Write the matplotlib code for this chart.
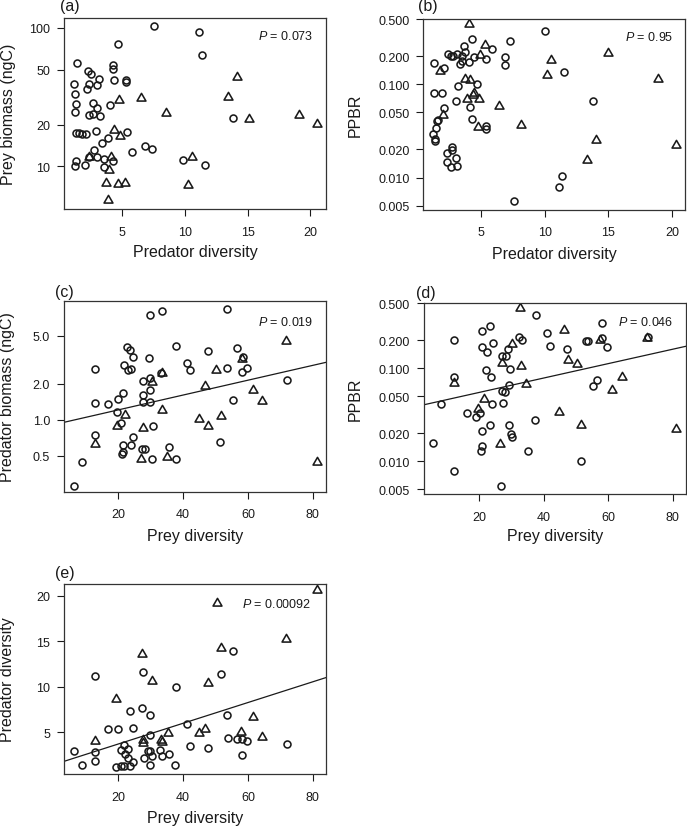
# Predator / prey diversity, biomass and PPBR panels (a)-(e)

import numpy as np
import matplotlib
matplotlib.use('Agg')
import matplotlib.pyplot as plt
from matplotlib.path import Path
from matplotlib.ticker import FixedLocator, FixedFormatter, NullLocator

plt.rcParams['font.family'] = ['Liberation Sans', 'DejaVu Sans']
plt.rcParams['mathtext.fontset'] = 'custom'
plt.rcParams['mathtext.it'] = 'Liberation Sans:italic'
plt.rcParams['mathtext.rm'] = 'Liberation Sans'

# ---- data ----
# (a) predator diversity vs prey biomass
a_circ_x = [7.55, 11.14, 11.38, 4.63, 1.38, 2.23, 2.5, 4.23, 4.23, 3.16, 4.36, 5.29, 5.29, 1.14, 2.34,
            2.98, 2.21, 1.25, 1.33, 2.68, 2.95, 4.04, 1.25, 2.31, 2.63, 3.22, 13.86, 1.30, 1.54, 1.81,
            2.07, 2.9, 5.35, 3.88, 3.38, 6.81, 7.34, 5.74, 2.74, 1.33, 1.25, 2.0, 2.37, 2.98, 3.56,
            4.23, 3.56, 9.84, 11.57]
a_circ_y = [104, 93.5, 63.8, 76.2, 56, 48.9, 46.2, 53.7, 50.2, 43, 42.4, 41.9, 40.7, 39.6, 39.2,
            38.8, 36.2, 33.3, 28, 28.5, 26.4, 27.9, 24.8, 23.4, 23.8, 23.1, 22.5, 17.4, 17.3, 17.1,
            17.2, 17.9, 17.8, 16, 14.7, 14, 13.3, 12.6, 13.2, 10.9, 10, 10.2, 11.6, 11.6, 11.3,
            10.9, 9.95, 11.1, 10.3]
a_tri_x = [4.73, 6.46, 8.48, 13.40, 14.15, 15.1, 19.1, 20.56, 4.36, 4.81, 4.10, 3.94, 3.70, 4.65,
           5.24, 10.21, 3.86, 10.53, 2.37]
a_tri_y = [30.3, 31.2, 24.4, 31.7, 44.5, 21.9, 23.6, 20.1, 18.3, 16.6, 11.7, 9.46, 7.62, 7.41,
           7.54, 7.33, 5.68, 11.7, 11.6]

# (b) predator diversity vs PPBR
b_circ_x = [1.35, 2.13, 2.44, 2.63, 2.84, 3.12, 3.54, 3.67, 3.72, 3.49, 3.33, 4.27, 4.04, 4.45, 5.86,
            5.44, 7.32, 6.90, 6.90, 10.0, 11.49, 3.23, 4.71, 1.35, 1.92, 3.04, 2.11, 4.14, 4.32, 1.53,
            1.66, 1.45, 1.27, 1.43, 1.43, 5.39, 5.39, 2.76, 2.76, 2.34, 3.07, 2.32, 2.68, 3.15, 13.76,
            11.36, 11.10, 7.63]
b_circ_y = [0.170, 0.151, 0.210, 0.202, 0.202, 0.214, 0.203, 0.261, 0.221, 0.178, 0.164, 0.307, 0.173,
            0.197, 0.240, 0.189, 0.290, 0.197, 0.161, 0.375, 0.136, 0.0953, 0.100, 0.080, 0.080,
            0.0667, 0.0561, 0.057, 0.0428, 0.0407, 0.041, 0.0339, 0.0295, 0.0261, 0.0248, 0.0356,
            0.0333, 0.0215, 0.0197, 0.0183, 0.0161, 0.0146, 0.0129, 0.0132, 0.0656, 0.0103, 0.0080,
            0.00556]
b_tri_x = [4.04, 5.29, 4.92, 10.5, 10.16, 15.0, 18.92, 1.77, 3.75, 4.17, 4.48, 4.4, 3.90, 4.82,
           2.05, 6.46, 4.74, 8.13, 14.07, 13.34, 20.3]
b_tri_y = [0.441, 0.262, 0.205, 0.183, 0.126, 0.215, 0.113, 0.138, 0.115, 0.110, 0.0813, 0.076,
           0.070, 0.069, 0.0472, 0.0585, 0.0347, 0.0362, 0.0252, 0.0153, 0.0224]

# (c) prey diversity vs predator biomass
c_circ_x = [6.36, 8.72, 12.92, 12.92, 12.92, 16.92, 19.49, 20.0, 20.82, 21.03, 21.4, 21.54, 21.54,
            21.64, 22.67, 22.87, 23.69, 24.0, 24.62, 23.79, 24.41, 27.2, 28.4, 29.74, 33.64, 29.64,
            27.59, 29.74, 29.85, 27.59, 27.69, 29.85, 33.13, 30.67, 30.46, 35.59, 37.74, 37.95,
            41.33, 42.26, 47.59, 51.49, 53.54, 53.44, 55.38, 56.72, 58.36, 58.05, 59.79, 72.2]
c_circ_y = [0.281, 0.44, 2.67, 1.38, 0.745, 1.35, 1.15, 1.49, 0.93, 0.52, 0.54, 0.61, 1.67, 2.88,
            4.05, 2.62, 3.82, 2.65, 3.33, 0.61, 0.716, 0.569, 0.569, 7.53, 8.03, 3.30, 2.12, 2.23,
            1.76, 1.59, 1.40, 1.40, 2.45, 0.89, 0.466, 0.59, 0.466, 4.15, 2.97, 2.58, 3.77, 0.645,
            8.35, 2.72, 1.46, 3.99, 3.33, 2.48, 2.72, 2.16]
c_tri_x = [12.92, 19.49, 22.15, 27.49, 27.08, 30.56, 33.44, 33.54, 35.18, 44.82, 47.79, 46.77,
           50.26, 51.69, 58.05, 61.54, 64.41, 71.69, 81.33]
c_tri_y = [0.63, 0.88, 1.10, 0.857, 0.469, 2.07, 2.45, 1.21, 0.488, 1.02, 0.89, 1.91, 2.60, 1.08,
           3.21, 1.78, 1.44, 4.54, 0.44]
c_fit = [-0.043, 0.0062]   # log10(y) = a + b * x

# (d) prey diversity vs PPBR
d_circ_x = [5.70, 8.19, 12.23, 12.23, 12.23, 16.27, 18.96, 20.3, 20.93, 20.93, 20.93, 20.7, 20.5,
            22.49, 22.07, 23.3, 23.5, 24.15, 23.94, 23.2, 26.94, 27.36, 26.7, 27.15, 27.98, 28.19,
            29.0, 29.43, 29.3, 29.3, 29.95, 30.05, 32.44, 33.16, 35.13, 37.2, 37.62, 40.93, 41.87,
            47.15, 51.4, 53.16, 53.6, 55.13, 56.58, 57.93, 58.13, 59.69, 72.44]
d_circ_y = [0.0159, 0.0414, 0.202, 0.0813, 0.00794, 0.0331, 0.0297, 0.0331, 0.252, 0.168, 0.021,
            0.0148, 0.013, 0.151, 0.0953, 0.288, 0.080, 0.189, 0.041, 0.0248, 0.135, 0.0424,
            0.00547, 0.057, 0.0563, 0.137, 0.160, 0.0975, 0.0667, 0.0248, 0.0197, 0.0185, 0.215,
            0.203, 0.013, 0.0281, 0.375, 0.238, 0.175, 0.161, 0.010, 0.195, 0.195, 0.0652, 0.0743,
            0.308, 0.212, 0.170, 0.219]
d_tri_x = [12.23, 21.55, 19.48, 26.53, 26.94, 30.05, 33.06, 32.64, 34.61, 44.66, 46.32, 47.46,
           50.16, 51.4, 57.51, 61.24, 64.15, 72.0, 81.14]
d_tri_y = [0.069, 0.0472, 0.0366, 0.0153, 0.114, 0.181, 0.105, 0.441, 0.0685, 0.0342, 0.261,
           0.124, 0.112, 0.0248, 0.203, 0.0585, 0.0807, 0.214, 0.0224]
d_fit = [-1.413, 0.00773]   # log10(y) = a + b * x

# (e) prey diversity vs predator diversity
e_circ_x = [6.36, 8.72, 12.82, 12.92, 12.92, 16.92, 19.9, 19.38, 20.7, 20.8, 21.64, 21.7, 22.05,
            22.87, 23.08, 23.69, 24.5, 23.69, 24.62, 27.38, 27.49, 29.74, 29.95, 27.9, 29.2, 29.95,
            30.56, 29.74, 32.8, 33.6, 35.69, 37.64, 37.95, 41.33, 42.26, 47.59, 51.69, 53.44, 53.74,
            55.38, 56.72, 58.15, 58.05, 59.79, 72.2]
e_circ_y = [2.97, 1.39, 11.17, 2.86, 1.87, 5.35, 5.35, 1.21, 1.32, 3.04, 3.63, 1.32, 2.6, 3.15,
            2.12, 1.32, 1.68, 7.33, 5.42, 7.62, 11.58, 6.92, 4.69, 2.12, 2.97, 2.89, 2.42, 1.39,
            3.04, 2.42, 2.64, 1.39, 9.93, 5.86, 3.44, 3.26, 11.39, 6.89, 4.40, 13.88, 4.25, 4.25,
            2.45, 4.03, 3.66]
e_tri_x = [12.92, 19.38, 27.28, 27.49, 27.49, 30.56, 33.23, 33.44, 35.28, 44.92, 46.77, 47.79,
           50.36, 51.69, 57.74, 61.44, 64.31, 71.69, 81.33]
e_tri_y = [4.07, 8.61, 13.55, 4.18, 3.81, 10.62, 4.14, 3.96, 4.87, 4.87, 5.35, 10.4, 19.19, 14.25,
           4.98, 6.63, 4.51, 15.2, 20.66]
e_fit = [1.42, 0.1139]   # y = a + b * x

p_values = ['0.073', '0.95', '0.019', '0.046', '0.00092']

ink = '#1a1a1a'
# R-like equilateral open triangle
tri = Path([(0, 0.75), (-0.65, -0.375), (0.65, -0.375), (0, 0.75)],
           [Path.MOVETO, Path.LINETO, Path.LINETO, Path.CLOSEPOLY])


def make_panel(rect, letter, cx, cy, tx, ty, xlim, ylim, xticks, yticks, yticklabels,
               xlabel, ylabel, ylog, pval, fit=None, ylab_x=-0.215, xlab_y=-0.226,
               letter_pos=(-0.02, 1.06), p_pos=(0.95, 0.90)):
    ax = fig.add_axes(rect)
    if ylog:
        ax.set_yscale('log')
    ax.plot(cx, cy, 'o', ls='none', mfc='none', mec=ink, ms=5.0, mew=1.15)
    ax.plot(tx, ty, marker=tri, ls='none', mfc='none', mec=ink, ms=7.4, mew=1.15)
    if fit is not None:
        xs = np.array(xlim)
        ys = fit[0] + fit[1] * xs
        if ylog:
            ys = 10 ** ys
        ax.plot(xs, ys, color=ink, lw=0.9)
    ax.set_xlim(xlim)
    ax.set_ylim(ylim)
    ax.xaxis.set_major_locator(FixedLocator(xticks))
    ax.set_xticklabels([str(t) for t in xticks])
    ax.yaxis.set_major_locator(FixedLocator(yticks))
    ax.yaxis.set_major_formatter(FixedFormatter(yticklabels))
    ax.yaxis.set_minor_locator(NullLocator())
    ax.xaxis.set_minor_locator(NullLocator())
    ax.tick_params(axis='both', direction='out', length=5, width=0.8, color=ink,
                   labelsize=9, labelcolor=ink)
    ax.tick_params(axis='x', pad=7)
    ax.tick_params(axis='y', pad=5)
    for s in ax.spines.values():
        s.set_linewidth(0.9)
        s.set_color('#333333')
    ax.set_xlabel(xlabel, fontsize=11.5, color=ink, va='center')
    ax.set_ylabel(ylabel, fontsize=11.5, color=ink, va='center')
    ax.xaxis.set_label_coords(0.5, xlab_y)
    ax.yaxis.set_label_coords(ylab_x, 0.5)
    ax.text(letter_pos[0], letter_pos[1], '(' + letter + ')', transform=ax.transAxes,
            ha='left', va='center', fontsize=11.5, color=ink)
    ax.text(p_pos[0], p_pos[1], '$P$ = ' + pval, transform=ax.transAxes,
            ha='right', va='center', fontsize=9, color=ink)
    return ax


fig = plt.figure(figsize=(6.87, 8.29), dpi=100)

make_panel([0.0932, 0.7467, 0.3814, 0.2304], 'a', a_circ_x, a_circ_y, a_tri_x, a_tri_y,
           (0.35, 21.25), (4.92, 118), [5, 10, 15, 20], [10, 20, 50, 100],
           ['10', '20', '50', '100'], 'Predator diversity', 'Prey biomass (ngC)', True,
           p_values[0], ylab_x=-0.213, xlab_y=-0.225, letter_pos=(-0.015, 1.063),
           p_pos=(0.950, 0.906))

ppbr_ticks = [0.005, 0.01, 0.02, 0.05, 0.1, 0.2, 0.5]
ppbr_labels = ['0.005', '0.010', '0.020', '0.050', '0.100', '0.200', '0.500']

make_panel([0.6164, 0.7460, 0.3814, 0.2304], 'b', b_circ_x, b_circ_y, b_tri_x, b_tri_y,
           (0.5, 21.05), (0.00453, 0.508), [5, 10, 15, 20], ppbr_ticks, ppbr_labels,
           'Predator diversity', 'PPBR', True, p_values[1], ylab_x=-0.259, xlab_y=-0.232,
           letter_pos=(-0.021, 1.07), p_pos=(0.953, 0.906))

make_panel([0.0932, 0.4057, 0.3814, 0.2297], 'c', c_circ_x, c_circ_y, c_tri_x, c_tri_y,
           (3.28, 84.1), (0.25, 9.74), [20, 40, 60, 80], [0.5, 1.0, 2.0, 5.0],
           ['0.5', '1.0', '2.0', '5.0'], 'Prey diversity', 'Predator biomass (ngC)', True,
           p_values[2], fit=c_fit, ylab_x=-0.216, xlab_y=-0.231, letter_pos=(-0.034, 1.05),
           p_pos=(0.952, 0.895))

make_panel([0.6172, 0.4029, 0.3814, 0.2304], 'd', d_circ_x, d_circ_y, d_tri_x, d_tri_y,
           (2.8, 84.15), (0.00446, 0.504), [20, 40, 60, 80], ppbr_ticks, ppbr_labels,
           'Prey diversity', 'PPBR', True, p_values[3], fit=d_fit, ylab_x=-0.263,
           xlab_y=-0.219, letter_pos=(-0.032, 1.056), p_pos=(0.951, 0.904))

make_panel([0.0932, 0.0651, 0.3814, 0.2297], 'e', e_circ_x, e_circ_y, e_tri_x, e_tri_y,
           (3.28, 84.1), (0.40, 21.32), [20, 40, 60, 80], [5, 10, 15, 20],
           ['5', '10', '15', '20'], 'Prey diversity', 'Predator diversity', False,
           p_values[4], fit=e_fit, ylab_x=-0.216, xlab_y=-0.226, letter_pos=(-0.034, 1.059),
           p_pos=(0.945, 0.898))

fig.savefig('out.png', dpi=100)
